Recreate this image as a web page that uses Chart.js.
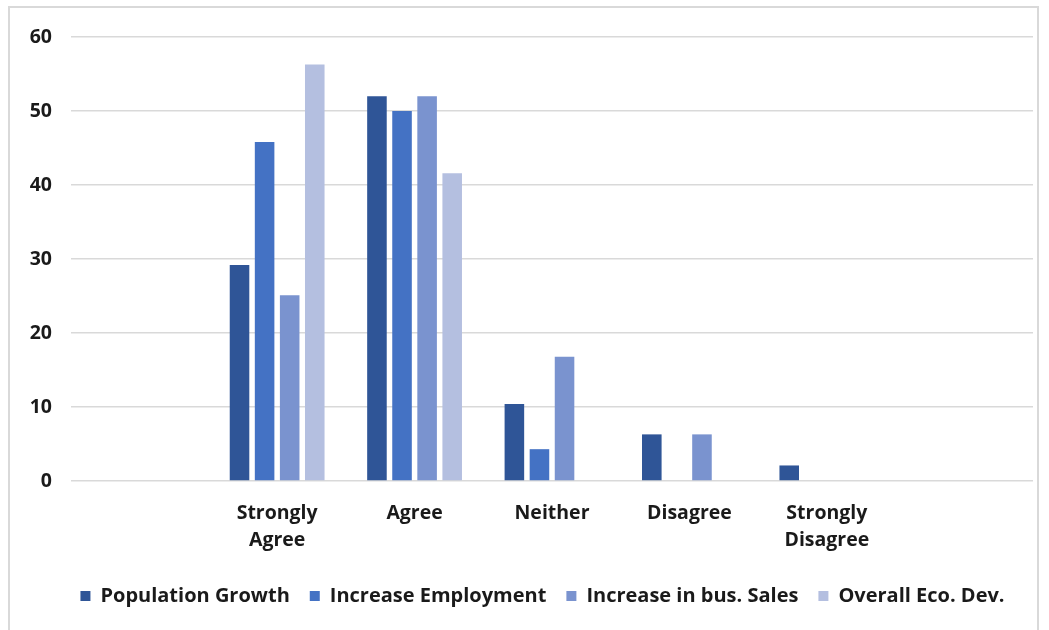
<!DOCTYPE html>
<html>
<head>
<meta charset="utf-8">
<script src="https://cdn.jsdelivr.net/npm/chart.js@4.4.0/dist/chart.umd.min.js"></script>
<style>
  html, body { margin: 0; padding: 0; background: #fff; }
  #wrap { position: absolute; left: 0; top: 0; width: 1049px; height: 630px; }
  #frame { position: absolute; left: 8px; top: 6px; width: 1031px; height: 640px; border: 2px solid #d9d9d9; box-sizing: border-box; pointer-events: none; }
  canvas { position: absolute; left: 0; top: 0; }
</style>
</head>
<body>
<div id="wrap">
  <canvas id="c" width="1049" height="630"></canvas>
  <div id="frame"></div>
</div>
<script>
const categories = ["", ["Strongly", "Agree"], "Agree", "Neither", "Disagree", ["Strongly", "Disagree"], ""];
const seriesNames = ["Population Growth", "Increase Employment", "Increase in bus. Sales", "Overall Eco. Dev."];
const populationGrowth   = [null, 29.2, 52.0, 10.4, 6.3, 2.1, null];
const increaseEmployment = [null, 45.8, 50.0, 4.3, null, null, null];
const increaseBusSales   = [null, 25.1, 52.0, 16.8, 6.3, null, null];
const overallEcoDev      = [null, 56.3, 41.6, null, null, null, null];
const yTicks = [0, 10, 20, 30, 40, 50, 60];
const colors = ["#2F5597", "#4472C4", "#7A93CF", "#B4BFE0"];

const seriesData = [populationGrowth, increaseEmployment, increaseBusSales, overallEcoDev];
const FONT = "'Open Sans', 'DejaVu Sans', sans-serif";

const shiftLegend = {
  id: 'shiftLegend',
  afterLayout(chart) {
    if (chart.legend) { chart.legend.left += 26; chart.legend.right += 26; }
  }
};

new Chart(document.getElementById('c'), {
  type: 'bar',
  data: {
    labels: categories,
    datasets: seriesNames.map((n, i) => ({
      label: n,
      data: seriesData[i],
      backgroundColor: colors[i],
      borderWidth: 0,
      categoryPercentage: 0.73,
      barPercentage: 0.78
    }))
  },
  plugins: [shiftLegend],
  options: {
    responsive: false,
    animation: false,
    layout: { padding: { top: 37, right: 16, bottom: 14, left: 0 } },
    plugins: {
      tooltip: { enabled: false },
      legend: {
        position: 'bottom',
        labels: {
          font: { family: FONT, size: 20, weight: 'bold' },
          color: '#1a1a1a',
          boxWidth: 10,
          boxHeight: 10,
          padding: 20
        }
      }
    },
    scales: {
      y: {
        min: 0, max: 60,
        afterBuildTicks: s => { s.ticks = yTicks.map(v => ({ value: v })); },
        afterFit: s => { s.width = 71; },
        grid: { color: '#d9d9d9', lineWidth: 1.5, drawTicks: false },
        border: { display: false },
        ticks: { font: { family: FONT, size: 19.5, weight: 'bold' }, color: '#1a1a1a', padding: 19 }
      },
      x: {
        grid: { display: false, drawTicks: false },
        border: { display: false },
        afterFit: s => { s.height = 85; },
        ticks: { font: { family: FONT, size: 19.5, weight: 'bold', lineHeight: 1.38 }, color: '#1a1a1a', padding: 19, maxRotation: 0, autoSkip: false }
      }
    }
  }
});
</script>
</body>
</html>
